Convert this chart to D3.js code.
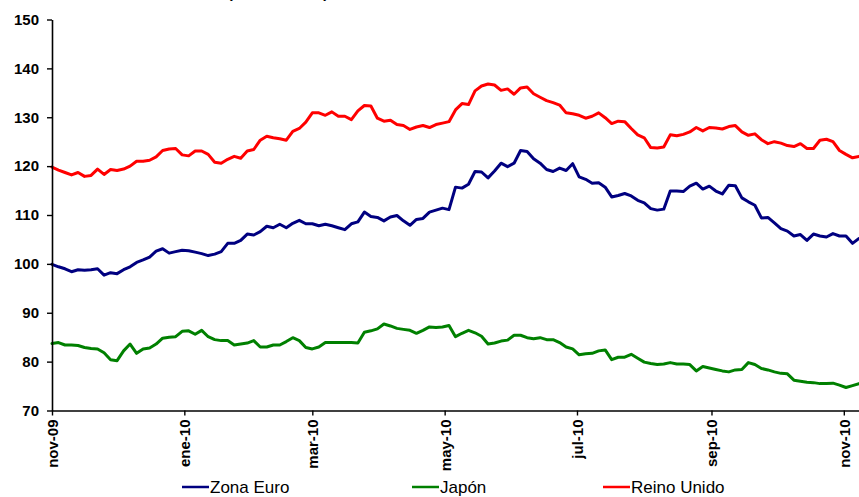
<!DOCTYPE html>
<html>
<head>
<meta charset="utf-8">
<script src="https://cdn.jsdelivr.net/npm/d3@7"></script>
<style>
  html, body { margin: 0; padding: 0; background: #fff; }
  svg { display: block; }
  text { font-family: "Liberation Sans", Arial, sans-serif; }
</style>
</head>
<body>
<svg id="chart" width="859" height="497"></svg>
<script>
// ---- Data ----
const startDate = new Date(2009, 10, 1);   // first observation: 1 nov 2009
const stepDays = 3;                          // one reading every 3 days

const seriesNames = ["Zona Euro", "Japón", "Reino Unido"];
const seriesColors = ["#000080", "#008000", "#ff0000"];

const zonaEuro = [
  99.9, 99.4, 99.0, 98.4, 98.8, 98.7, 98.8, 99.0, 97.7, 98.2,
  98.0, 98.8, 99.4, 100.3, 100.8, 101.4, 102.6, 103.1, 102.2, 102.5,
  102.8, 102.7, 102.4, 102.1, 101.7, 102.0, 102.5, 104.2, 104.2, 104.8,
  106.1, 105.9, 106.6, 107.7, 107.4, 108.1, 107.4, 108.3, 108.9, 108.2,
  108.2, 107.8, 108.1, 107.8, 107.4, 107.0, 108.2, 108.6, 110.6, 109.7,
  109.5, 108.8, 109.6, 109.9, 108.8, 107.9, 109.1, 109.3, 110.6, 111.0,
  111.4, 111.1, 115.7, 115.5, 116.3, 118.9, 118.8, 117.6, 119.0, 120.6,
  119.9, 120.6, 123.2, 123.0, 121.5, 120.6, 119.3, 118.9, 119.6, 119.1,
  120.5, 117.8, 117.3, 116.5, 116.6, 115.7, 113.7, 114.0, 114.4, 113.9,
  113.0, 112.5, 111.3, 111.0, 111.2, 114.9, 114.9, 114.8, 115.9, 116.5,
  115.3, 115.9, 114.9, 114.3, 116.1, 116.0, 113.5, 112.7, 112.0, 109.4,
  109.5, 108.4, 107.2, 106.7, 105.7, 106.0, 104.8, 106.1, 105.7, 105.5,
  106.2, 105.7, 105.7, 104.2, 105.2
];

const japon = [
  83.7, 83.9, 83.4, 83.4, 83.3, 82.9, 82.7, 82.6, 81.8, 80.4,
  80.2, 82.2, 83.6, 81.7, 82.6, 82.8, 83.6, 84.8, 85.0, 85.1,
  86.2, 86.3, 85.6, 86.4, 85.1, 84.5, 84.3, 84.3, 83.4, 83.6,
  83.8, 84.3, 83.0, 83.0, 83.4, 83.4, 84.1, 84.9, 84.3, 82.9,
  82.6, 83.0, 83.9, 83.9, 83.9, 83.9, 83.9, 83.8, 86.0, 86.3,
  86.7, 87.7, 87.3, 86.8, 86.6, 86.4, 85.8, 86.4, 87.1, 87.0,
  87.1, 87.4, 85.1, 85.8, 86.4, 85.9, 85.2, 83.6, 83.8, 84.2,
  84.4, 85.4, 85.4, 84.9, 84.7, 84.9, 84.5, 84.5, 83.9, 83.0,
  82.6, 81.4, 81.6, 81.7, 82.2, 82.4, 80.4, 80.9, 80.9, 81.5,
  80.7, 79.9, 79.6, 79.4, 79.5, 79.8, 79.5, 79.5, 79.4, 78.1,
  79.0, 78.7, 78.4, 78.1, 77.9, 78.3, 78.4, 79.8, 79.4, 78.6,
  78.3, 77.9, 77.6, 77.5, 76.2, 76.0, 75.8, 75.7, 75.5, 75.5,
  75.6, 75.2, 74.7, 75.1, 75.5
];

const reinoUnido = [
  119.8, 119.2, 118.7, 118.2, 118.7, 117.9, 118.1, 119.4, 118.3, 119.3,
  119.1, 119.4, 120.0, 121.0, 121.0, 121.2, 121.9, 123.2, 123.5, 123.6,
  122.3, 122.1, 123.1, 123.1, 122.4, 120.8, 120.6, 121.4, 122.0, 121.6,
  123.1, 123.4, 125.3, 126.1, 125.8, 125.6, 125.3, 127.1, 127.7, 129.0,
  130.9, 130.9, 130.4, 131.1, 130.2, 130.2, 129.5, 131.3, 132.4, 132.3,
  129.8, 129.2, 129.4, 128.5, 128.3, 127.5, 128.0, 128.3, 127.9, 128.5,
  128.8, 129.1, 131.5, 132.8, 132.6, 135.4, 136.4, 136.8, 136.6, 135.5,
  135.8, 134.7, 136.0, 136.2, 134.8, 134.1, 133.4, 133.0, 132.5, 130.9,
  130.7, 130.4, 129.8, 130.2, 130.9, 129.9, 128.7, 129.2, 129.1, 127.7,
  126.4, 125.8, 123.8, 123.7, 123.9, 126.4, 126.2, 126.5, 127.0, 127.9,
  127.2, 127.9, 127.8, 127.6, 128.1, 128.3, 127.0, 126.3, 126.6, 125.4,
  124.6, 125.0, 124.7, 124.2, 124.0, 124.6, 123.6, 123.6, 125.3, 125.5,
  125.0, 123.2, 122.4, 121.7, 122.0
];

const yTicks = [70, 80, 90, 100, 110, 120, 130, 140, 150];
const xTickDates = [
  new Date(2009, 10, 1), new Date(2010, 0, 1), new Date(2010, 2, 1),
  new Date(2010, 4, 1), new Date(2010, 6, 1), new Date(2010, 8, 1),
  new Date(2010, 10, 1)
];
const xTickLabels = ["nov-09", "ene-10", "mar-10", "may-10", "jul-10", "sep-10", "nov-10"];
const titleText = "(nov-09 = 100)";

// ---- Chart ----
const svg = d3.select("#chart");
const allSeries = [zonaEuro, japon, reinoUnido];
const nPts = zonaEuro.length;
const dates = d3.range(nPts).map(i => d3.timeDay.offset(startDate, i * stepDays));

const x = d3.scaleTime()
  .domain([startDate, dates[nPts - 1]])
  .range([52, 859]);
const y = d3.scaleLinear().domain([70, 150]).range([410.5, 19.5]);

// title (in the reference only the lower tips of its brackets show at the top edge)
svg.append("text")
  .attr("x", 278).attr("y", -2)
  .attr("text-anchor", "middle")
  .attr("font-weight", "bold")
  .attr("font-size", 15)
  .text(titleText);

// lines
const line = d3.line()
  .x((d, i) => x(dates[i]))
  .y(d => y(d));

svg.append("g").selectAll("path")
  .data(allSeries)
  .join("path")
  .attr("d", d => line(d))
  .attr("fill", "none")
  .attr("stroke", (d, i) => seriesColors[i])
  .attr("stroke-width", 3)
  .attr("stroke-linejoin", "round")
  .attr("stroke-linecap", "round");

// y axis
const yAxis = svg.append("g")
  .attr("transform", "translate(52,0)")
  .call(d3.axisLeft(y).tickValues(yTicks).tickSize(5).tickSizeOuter(0).tickPadding(8));
yAxis.select(".domain").attr("stroke", "#000").attr("stroke-width", 1.6);
yAxis.selectAll(".tick line").attr("stroke", "#000").attr("stroke-width", 1.4);
yAxis.selectAll(".tick text")
  .attr("font-family", "'Liberation Sans', Arial, sans-serif")
  .attr("font-size", 15).attr("font-weight", "bold").attr("fill", "#000");

// x axis
const xAxis = svg.append("g")
  .attr("transform", "translate(0," + y(70) + ")")
  .call(d3.axisBottom(x).tickValues(xTickDates)
    .tickFormat((d, i) => xTickLabels[i]).tickSize(5).tickSizeOuter(0));
xAxis.select(".domain").attr("stroke", "#000").attr("stroke-width", 1.6);
xAxis.selectAll(".tick line").attr("stroke", "#000").attr("stroke-width", 1.4);
xAxis.selectAll(".tick text")
  .attr("font-family", "'Liberation Sans', Arial, sans-serif")
  .attr("font-size", 15).attr("font-weight", "bold").attr("fill", "#000")
  .attr("transform", "rotate(-90)")
  .attr("text-anchor", "end")
  .attr("x", -9).attr("y", 0).attr("dy", "0.36em");

// legend
const legendX = [182, 412, 603];
const legend = svg.append("g").selectAll("g")
  .data(seriesNames)
  .join("g")
  .attr("transform", (d, i) => "translate(" + legendX[i] + ",487)");
legend.append("line")
  .attr("x1", 0).attr("x2", 27).attr("y1", 0).attr("y2", 0)
  .attr("stroke", (d, i) => seriesColors[i]).attr("stroke-width", 2.5);
legend.append("text")
  .attr("x", 28).attr("y", 5.5)
  .attr("font-size", 17)
  .attr("fill", "#000")
  .text(d => d);
</script>
</body>
</html>
